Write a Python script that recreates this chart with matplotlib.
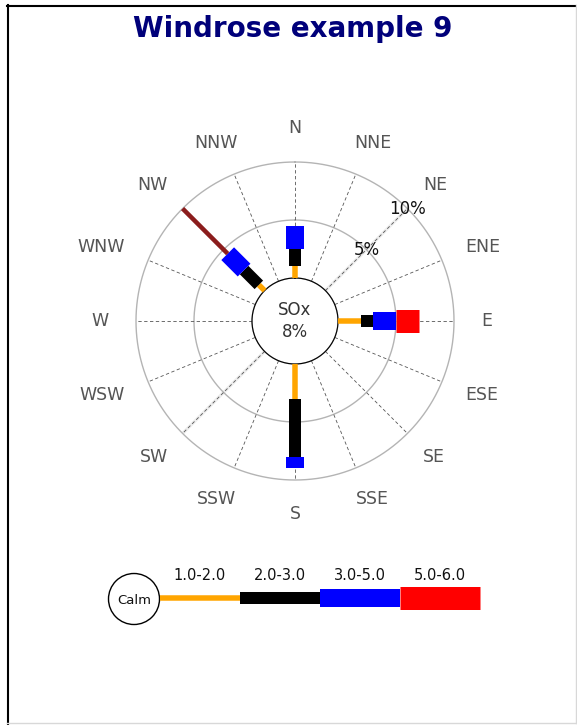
import numpy as np
import matplotlib
matplotlib.use("Agg")
import matplotlib.pyplot as plt
from matplotlib.patches import Circle

# ---- data -------------------------------------------------------------
directions = ["N", "NNE", "NE", "ENE", "E", "ESE", "SE", "SSE",
              "S", "SSW", "SW", "WSW", "W", "WNW", "NW", "NNW"]
speed_ranges = ["1.0-2.0", "2.0-3.0", "3.0-5.0", "5.0-6.0"]

# frequency (%) in each speed bin, for the directions with observations
freq_N = [1.0, 1.5, 2.0, 0.0, 0.0]
freq_E = [2.0, 1.0, 2.0, 2.0, 0.0]
freq_S = [3.0, 5.0, 1.0, 0.0, 0.0]
freq_NW = [0.7, 1.8, 2.0, 0.0, 5.5]

calm_pct = 8
pollutant = "SOx"
ring_values = [5, 10]
title = "Windrose example 9"

# ---- style ------------------------------------------------------------
bin_colors = ["#ffa500", "#000000", "#0000ff", "#ff0000", "#8b1c1c"]
bin_width_px = [5.5, 12, 18, 23, 4.5]
PT = 0.72  # points per pixel at 100 dpi

W, H = 577, 725
fig = plt.figure(figsize=(W / 100, H / 100), dpi=100)
fig.patch.set_facecolor("white")

cx, cy = 295, 321      # rose centre (pixels from top-left)
R_out, R_in = 159, 43  # outer ring and calm circle radii (pixels)
rmax = ring_values[-1]
origin = -R_in * rmax / (R_out - R_in)

ax = fig.add_axes([(cx - R_out) / W, 1 - (cy + R_out) / H,
                   2 * R_out / W, 2 * R_out / H], projection="polar")
ax.set_theta_zero_location("N")
ax.set_theta_direction(-1)
ax.set_rlim(0, rmax)
ax.set_rorigin(origin)
ax.grid(False)
ax.set_xticks([])
ax.set_yticks([])
ax.patch.set_visible(False)
for name, sp in ax.spines.items():
    sp.set_visible(False)

theta = np.linspace(0, 2 * np.pi, 721)
# calm circle and percentage rings
ax.plot(theta, np.zeros_like(theta), color="#b4b4b4", lw=1.0, clip_on=False)
for rv in ring_values:
    ax.plot(theta, np.full_like(theta, rv), color="#b4b4b4", lw=1.0,
            clip_on=False)

angles = np.deg2rad(np.arange(len(directions)) * 360 / len(directions))

# faint axis along which the ring labels sit
for a in (np.pi / 4, np.pi / 4 + np.pi):
    ax.plot([a, a], [0, rmax], color="#ececec", lw=2.2, zorder=1)

# dashed direction spokes
for a in angles:
    ax.plot([a, a], [0, rmax], color="#555555", lw=0.6,
            ls=(0, (4, 3)), zorder=2)

# stacked speed segments
series = {"N": freq_N, "E": freq_E, "S": freq_S, "NW": freq_NW}
for dname, vals in series.items():
    a = angles[directions.index(dname)]
    start = 0.0
    for k, v in enumerate(vals):
        if v > 0:
            ax.plot([a, a], [start, start + v], color=bin_colors[k],
                    lw=bin_width_px[k] * PT, solid_capstyle="butt",
                    zorder=4, clip_on=False)
        start += v

# ring labels
for rv in ring_values:
    ax.text(np.pi / 4, rv, f"{rv}%", ha="center", va="center",
            fontsize=12, color="#111111", zorder=5)

# centre text
ax.text(0, origin, f"{pollutant}\n{calm_pct}%", ha="center", va="center",
        fontsize=12, color="#333333", linespacing=1.3)

# ---- overlay in pixel coordinates: compass labels, title, legend ------
ov = fig.add_axes([0, 0, 1, 1])
ov.set_xlim(0, W)
ov.set_ylim(H, 0)
ov.axis("off")
ov.patch.set_visible(False)

renderer = fig.canvas.get_renderer()
R_lab = 186
for a, name in zip(angles, directions):
    s, c = np.sin(a), np.cos(a)
    t = ov.text(0, 0, name, ha="center", va="center", fontsize=12.5,
                color="#555555")
    bb = t.get_window_extent(renderer)
    hw, hh = bb.width / 2, bb.height / 2 * 0.75
    t.set_position((cx + R_lab * s + hw * s,
                    cy - R_lab * c - hh * c))

ov.text(293, 29, title, ha="center", va="center", fontsize=20,
        fontweight="bold", color="#00007a")

# legend
calm_x, calm_y, calm_r = 134, 599, 25.5
ov.add_patch(Circle((calm_x, calm_y), calm_r, fc="white", ec="black", lw=1.0))
ov.text(calm_x, calm_y + 1, "Calm", ha="center", va="center", fontsize=9.5,
        color="#111111")
seg_x0, seg_len, seg_y = calm_x + calm_r, 80, 598
for k, lab in enumerate(speed_ranges):
    x0 = seg_x0 + k * seg_len
    ov.plot([x0, x0 + seg_len], [seg_y, seg_y], color=bin_colors[k],
            lw=bin_width_px[k] * PT, solid_capstyle="butt")
    ov.text(x0 + seg_len / 2, 576, lab, ha="center", va="center",
            fontsize=10.5, color="#111111")

# image frame
ov.plot([7.5, 7.5], [5, H], color="black", lw=1.5)
ov.plot([7, W], [5.5, 5.5], color="black", lw=1.5)
ov.plot([575.5, 575.5], [5, 723], color="#d8d8d8", lw=1.0)
ov.plot([7, W], [722.5, 722.5], color="#d8d8d8", lw=1.0)

fig.savefig("out.png", dpi=100, facecolor="white")
